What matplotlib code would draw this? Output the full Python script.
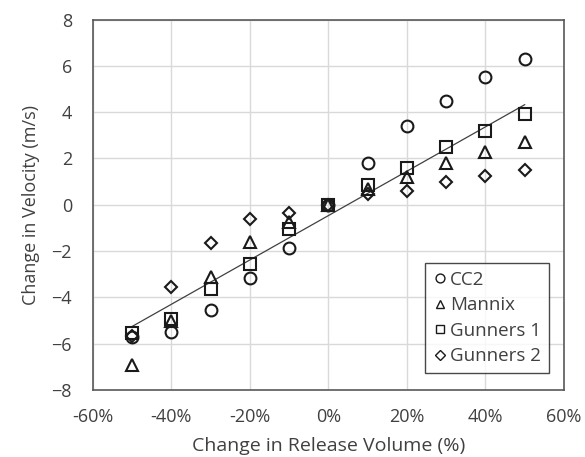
import numpy as np
import matplotlib
matplotlib.use("Agg")
import matplotlib.pyplot as plt

plt.rcParams['font.family'] = ['Open Sans', 'DejaVu Sans']

# change in release volume (%)
volume = [-50, -40, -30, -20, -10, 0, 10, 20, 30, 40, 50]

# change in velocity (m/s) per site
cc2 = [-5.7, -5.5, -4.55, -3.18, -1.85, 0.0, 1.8, 3.4, 4.5, 5.5, 6.3]
mannix = [-6.9, -5.0, -3.1, -1.6, -0.75, 0.0, 0.7, 1.2, 1.8, 2.3, 2.7]
gunners1 = [-5.55, -4.95, -3.65, -2.55, -1.05, 0.0, 0.85, 1.6, 2.5, 3.2, 3.9]
gunners2 = [-5.65, -3.55, -1.65, -0.6, -0.35, 0.0, 0.45, 0.6, 1.0, 1.25, 1.5]

series = [("CC2", cc2, "o", 8.5),
          ("Mannix", mannix, "^", 8.5),
          ("Gunners 1", gunners1, "s", 8.5),
          ("Gunners 2", gunners2, "D", 6.5)]

txt = "#404040"

fig = plt.figure(figsize=(5.85, 4.57), dpi=100)
ax = fig.add_axes([0.1585, 0.1466, 0.8055, 0.8107])

for name, vals, mk, ms in series:
    ax.plot(volume, vals, linestyle="none", marker=mk, markersize=ms,
            markerfacecolor="none", markeredgecolor="#1a1a1a",
            markeredgewidth=1.5, label=name, zorder=3)

# linear trend through all points
all_x = np.tile(volume, len(series))
all_y = np.concatenate([s[1] for s in series])
slope, icpt = np.polyfit(all_x, all_y, 1)
xs = np.array([min(volume), max(volume)])
ax.plot(xs, slope * xs + icpt, color="#404040", linewidth=0.9, zorder=2)

ax.set_xlim(-60, 60)
ax.set_ylim(-8, 8)
ax.set_xticks(range(-60, 61, 20))
ax.set_xticklabels([f"{t}%" for t in range(-60, 61, 20)])
ax.set_yticks(range(-8, 9, 2))
ax.grid(True, color="#d9d9d9", linewidth=1.0, zorder=0)
ax.set_axisbelow(True)

for side in ["top", "right", "bottom", "left"]:
    ax.spines[side].set_color("#595959")
    ax.spines[side].set_linewidth(1.2)

ax.tick_params(axis="x", length=0, labelsize=13, labelcolor=txt, pad=13)
ax.tick_params(axis="y", length=0, labelsize=13, labelcolor=txt, pad=15)
ax.set_xlabel("Change in Release Volume (%)", fontsize=14, color=txt, labelpad=8)
ax.set_ylabel("Change in Velocity (m/s)", fontsize=13, color=txt, labelpad=8)

leg = ax.legend(loc="lower right", bbox_to_anchor=(0.968, 0.046), fontsize=13.5,
                frameon=True, fancybox=False, edgecolor="#1a1a1a",
                markerscale=0.75, handlelength=0.8, handletextpad=0.15,
                labelspacing=0.4, borderpad=0.4, borderaxespad=0)
leg.get_frame().set_linewidth(1.0)
for t in leg.get_texts():
    t.set_color(txt)
for h in leg.legend_handles:
    h.set_markeredgewidth(1.0)

fig.savefig("out.png", dpi=100)
